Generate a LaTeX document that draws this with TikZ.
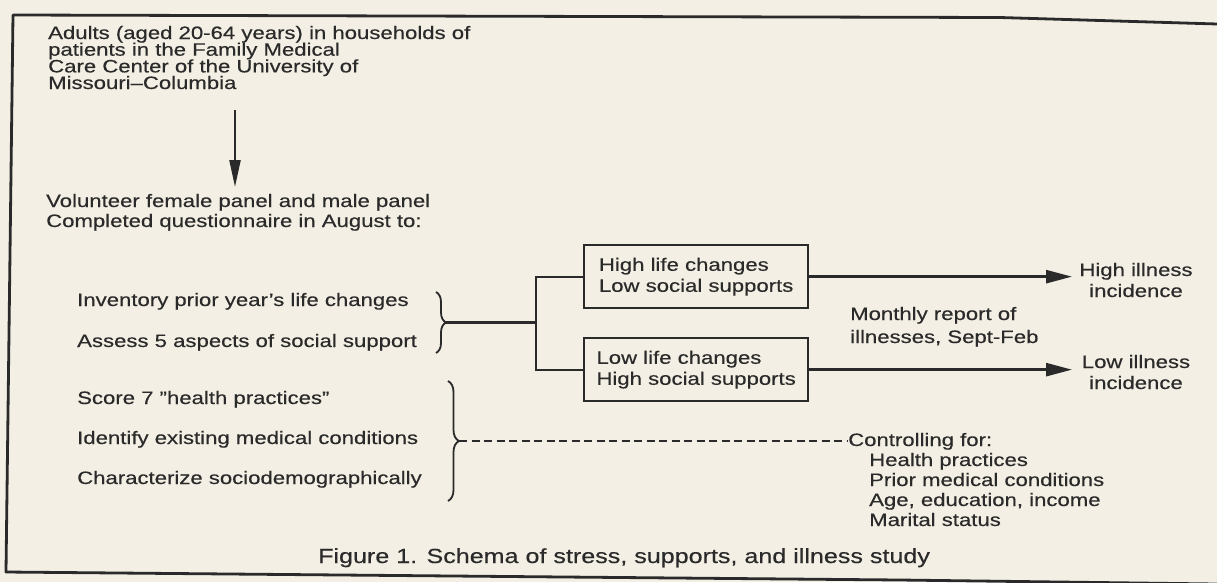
\documentclass[tikz,border=0pt]{standalone}
\usepackage{fontspec}
\newfontfamily\figfont{Liberation Sans}[FakeStretch=1.23, FakeBold=0.35, Ligatures=TeX]
\usetikzlibrary{arrows.meta,decorations.pathreplacing}
\definecolor{paper}{HTML}{F3EFE4}
\definecolor{ink}{HTML}{2A2A2A}
\begin{document}
\begin{tikzpicture}[x=1pt,y=-1pt,
  txt/.style={font=\figfont\fontsize{18}{21}\selectfont, text=ink, inner sep=0pt, anchor=base west},
  ctxt/.style={txt, anchor=base},
  capst/.style={font=\figfont\fontsize{20.4}{24}\selectfont, text=ink, inner sep=0pt, anchor=base west},
  boxst/.style={draw=ink, line width=2.3pt, font=\figfont\fontsize{18}{21}\selectfont, text=ink,
     minimum width=224pt, minimum height=63pt, align=left,
     inner xsep=8pt, inner ysep=0pt, anchor=north west},
  conn/.style={draw=ink, line width=2.3pt},
  arr/.style={draw=ink, line width=2.6pt, -{Triangle[length=26pt,width=13pt]}},
  framest/.style={draw=ink, line width=2.8pt, line join=round},
  bracest/.style={draw=ink, line width=1.8pt, decorate, decoration={brace, amplitude=#1}}]
\useasboundingbox (0,0) rectangle (1217,582);
\fill[paper] (0,0) rectangle (1217,582);
% frame
\draw[framest] (1217,24) -- (1000,17.5) -- (13,15) -- (6,572) -- (900,580) -- (1217,584);
% title
\node[txt] (t1) at (48,39) {Adults (aged 20-64 years) in households of};
\node[txt] (t2) at (48,55.7) {patients in the Family Medical};
\node[txt] (t3) at (48,72.4) {Care Center of the University of};
\node[txt] (t4) at (48,89) {Missouri–Columbia};
\coordinate (a1) at (235,110);
\coordinate (a2) at (235,187);
\draw[draw=ink, line width=2.2pt, -{Triangle[length=27pt,width=11pt]}] (a1) -- (a2);
\node[txt] (v1) at (46,207) {Volunteer female panel and male panel};
\node[txt] (v2) at (46,227) {Completed questionnaire in August to:};
% first group
\node[txt] (i1) at (77,306) {Inventory prior year’s life changes};
\node[txt] (i2) at (77,347) {Assess 5 aspects of social support};
\draw[bracest=10pt] (436,292) -- (436,353);
\coordinate (b1) at (446,322.5);
\coordinate (j) at (536,322.5);
% boxes
\node[boxst] (box1) at (583,244) {High life changes\\Low social supports};
\node[boxst] (box2) at (583,337) {Low life changes\\High social supports};
\draw[conn] (b1) -- (j);
\draw[conn] (box1.west) -| (j) |- (box2.west);
\coordinate (tip) at (1072,0);
\draw[arr] (box1.east) -- (box1.east -| tip);
\draw[arr] (box2.east) -- (box2.east -| tip);
\node[ctxt] (hi1) at (1136,276) {High illness};
\node[ctxt] (hi2) at (1136,297) {incidence};
\node[txt] (m1) at (850,320) {Monthly report of};
\node[txt] (m2) at (850,343) {illnesses, Sept-Feb};
\node[ctxt] (lo1) at (1136,368) {Low illness};
\node[ctxt] (lo2) at (1136,389) {incidence};
% second group
\node[txt] (s1) at (77,404) {Score 7 ''health practices''};
\node[txt] (s2) at (77,444) {Identify existing medical conditions};
\node[txt] (s3) at (77,484) {Characterize sociodemographically};
\draw[bracest=11pt] (448,381) -- (448,501);
\coordinate (b2) at (459,441);
\node[txt] (c0) at (848,446) {Controlling for:};
\node[txt] (c1) at (869,466) {Health practices};
\node[txt] (c2) at (869,486) {Prior medical conditions};
\node[txt] (c3) at (869,506) {Age, education, income};
\node[txt] (c4) at (869,526) {Marital status};
\draw[draw=ink, line width=1.6pt, dash pattern=on 8pt off 4.5pt] (b2) -- (b2 -| c0.west);
% caption
\node[capst] (cap) at (318,563) {Figure 1. Schema of stress, supports, and illness study};
\end{tikzpicture}
\end{document}
